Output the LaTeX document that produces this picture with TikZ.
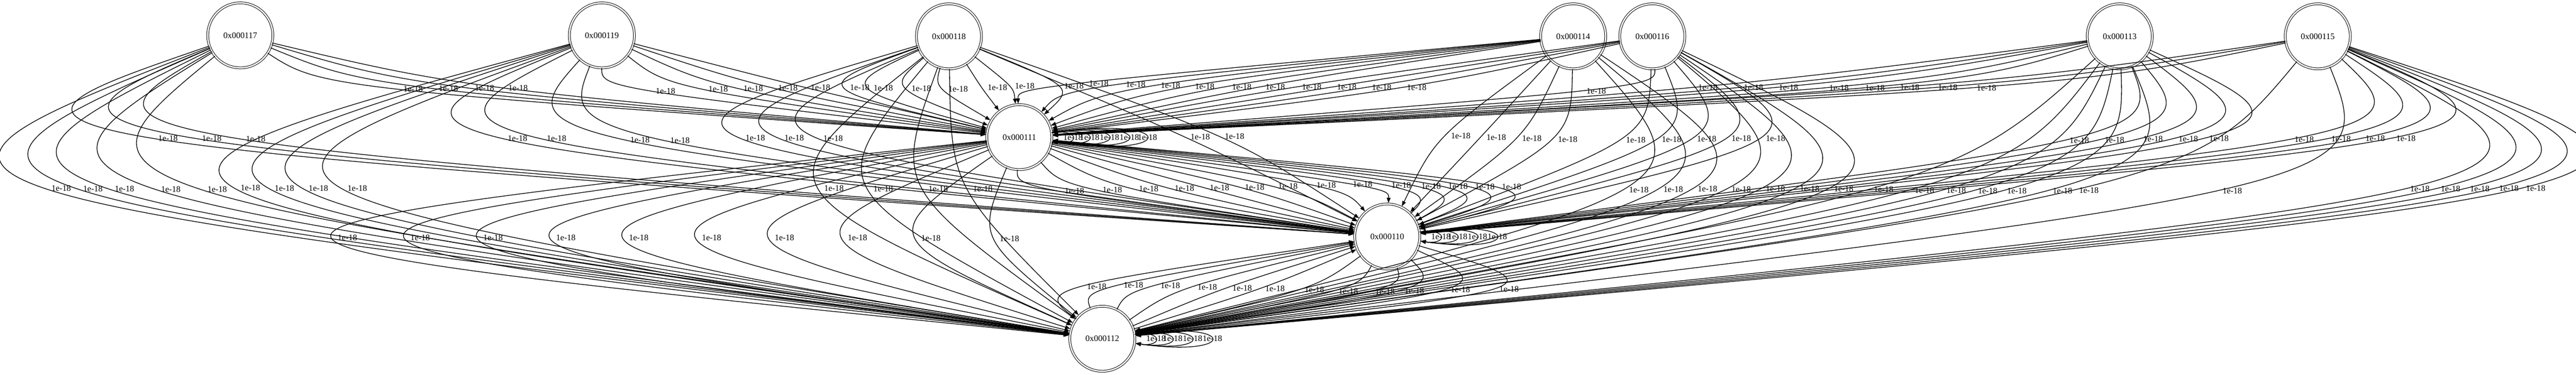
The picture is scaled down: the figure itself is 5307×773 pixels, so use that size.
\documentclass[tikz,border=0pt]{standalone}
\usepackage{fontspec}
\setmainfont{Liberation Serif}
\usetikzlibrary{automata,arrows.meta,calc,positioning}

\begin{document}
\begin{tikzpicture}[x=0.01cm,y=0.01cm,>={Triangle[length=3pt,width=2.25pt]},shorten >=0.5pt,auto,
		font=\fontsize{5}{6}\selectfont,line width=0.4pt,
		every state/.style={draw,circle,double,double distance=0.85pt,line width=0.3pt,minimum size=1.34cm,inner sep=0pt},
		every edge/.style={draw}]
	\useasboundingbox (0,0) rectangle (5307,-773);
	\node[state] (q_117) at (495,-73) {0x000117};
	\node[state] (q_119) at (1240,-73) {0x000119};
	\node[state] (q_118) at (1955,-75) {0x000118};
	\node[state] (q_114) at (3241,-75) {0x000114};
	\node[state] (q_116) at (3404,-75) {0x000116};
	\node[state] (q_113) at (4367,-75) {0x000113};
	\node[state] (q_115) at (4775,-75) {0x000115};
	\node[state] (q_111) at (2100,-283) {0x000111};
	\node[state] (q_110) at (2858,-488) {0x000110};
	\node[state] (q_112) at (2271,-699) {0x000112};
	% every edge passes its label row at x, y
	\foreach \s/\t/\x/\y in {
			117/111/820/180,117/111/892/180,117/111/966/180,117/111/1035/180,
			119/111/1347/180,119/111/1449/180,119/111/1520/180,119/111/1591/180,119/111/1658/180,
			118/111/1755/180,118/111/1803/180,118/111/1880/180,118/111/1951/180,118/111/2023/180,118/111/2073/180,118/111/2166/180,
			114/111/2240/180,114/111/2310/180,114/111/2380/180,114/111/2450/180,114/111/2526/180,114/111/2595/180,
			116/111/2670/180,116/111/2742/180,116/111/2814/180,116/111/2886/180,116/111/3247/180,
			113/111/3486/180,113/111/3580/180,113/111/3652/180,113/111/3756/180,113/111/3830/180,
			115/111/3902/180,115/111/3980/180,115/111/4060/180,
			117/110/330/283,117/110/420/283,117/110/510/283,
			119/110/1050/283,119/110/1130/283,119/110/1300/283,119/110/1380/283,
			118/110/1540/283,118/110/1620/283,118/110/1700/283,118/110/2440/283,118/110/2510/283,
			114/110/2980/283,114/110/3050/283,114/110/3120/283,114/110/3190/283,
			116/110/3330/283,116/110/3400/283,116/110/3470/283,116/110/3540/283,116/110/3610/283,
			113/110/4240/283,113/110/4310/283,113/110/4388/283,113/110/4460/283,113/110/4523/283,
			115/110/4700/283,115/110/4775/283,115/110/4845/283,115/110/4908/283,
			117/112/110/387,117/112/175/387,117/112/240/387,117/112/335/387,117/112/430/387,
			119/112/500/387,119/112/570/387,119/112/640/387,119/112/720/387,
			118/112/1700/387,118/112/1800/387,118/112/1910/387,118/112/1998/387,
			111/110/2190/387,111/110/2262/387,111/110/2335/387,111/110/2408/387,111/110/2480/387,
			111/110/2552/387,111/110/2620/387,111/110/2697/387,111/110/2766/387,
			110/111/2840/387,110/111/2900/387,110/111/2955/387,110/111/3010/387,110/111/3065/387,
			114/112/3330/387,114/112/3400/387,114/112/3470/387,
			116/112/3540/387,116/112/3610/387,116/112/3680/387,116/112/3750/387,
			113/112/3846/387,113/112/3929/387,113/112/3993/387,113/112/4056/387,113/112/4114/387,113/112/4205/387,
			115/112/4268/387,115/112/4555/387,115/112/4937/387,115/112/5000/387,115/112/5060/387,115/112/5120/387,115/112/5175/387,
			111/112/700/490,111/112/850/490,111/112/1000/490,111/112/1150/490,111/112/1300/490,
			111/112/1450/490,111/112/1600/490,111/112/1750/490,111/112/1900/490,111/112/2057/490,
			112/110/2242/595,112/110/2314/595,112/110/2383/595,112/110/2456/595,112/110/2527/595,112/110/2594/595,
			110/112/2674/595,110/112/2741/595,110/112/2810/595,110/112/2867/595,110/112/2960/595,110/112/3060/595}
		\draw[->] (q_\s) .. controls ($1.33333*(\x,-\y)-0.16667*(q_\s)-0.16667*(q_\t)$) .. (q_\t)
			node[pos=0.5,right] {1e-18};
	% self loops
	\foreach \m in {0.55,1.05,1.6,2.15,2.65}
		\path[->] (q_111) edge[out=8,in=-8,looseness=8,min distance=\m cm] node[pos=0.5,anchor=center] {1e-18} (q_111);
	\foreach \m in {0.55,1.05,1.6,2.15}
		\path[->] (q_110) edge[out=8,in=-8,looseness=8,min distance=\m cm] node[pos=0.5,anchor=center] {1e-18} (q_110);
	\foreach \m in {0.55,1.05,1.6,2.15}
		\path[->] (q_112) edge[out=8,in=-8,looseness=8,min distance=\m cm] node[pos=0.5,anchor=center] {1e-18} (q_112);
\end{tikzpicture}
\end{document}
